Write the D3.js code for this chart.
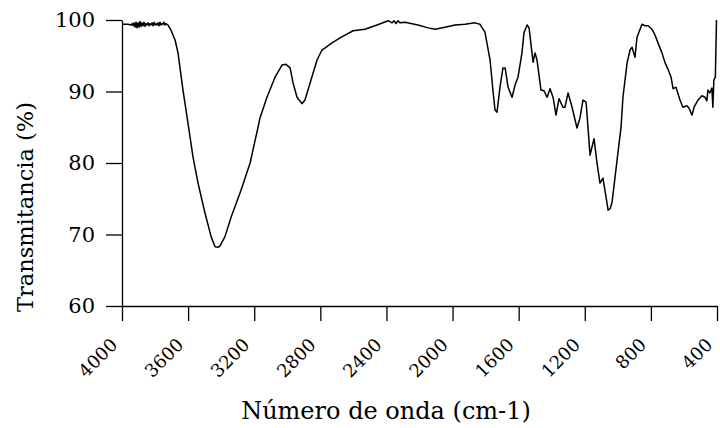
<!DOCTYPE html>
<html><head><meta charset="utf-8">
<script src="https://cdn.jsdelivr.net/npm/d3@7"></script>
<style>body{margin:0;background:#fff}svg{display:block}</style>
</head><body>
<svg id="c" width="720" height="428"></svg>
<script>
const wavenumber = [3994,3964,3945,3939,3933,3927,3921,3915,3909,3903,3897,3891,3885,3879,3873,3867,3861,3855,3849,3843,3837,3831,3825,3818,3812,3806,3800,3794,3788,3782,3776,3770,3764,3758,3752,3746,3740,3734,3728,3722,3704,3679,3661,3649,3631,3601,3570,3540,3498,3461,3437,3419,3407,3377,3340,3280,3225,3177,3165,3123,3074,3032,3008,2983,2965,2941,2911,2893,2862,2820,2790,2729,2681,2602,2530,2457,2390,2366,2354,2342,2330,2318,2288,2209,2148,2106,2046,1985,1925,1864,1834,1804,1773,1755,1743,1731,1713,1695,1682,1664,1640,1622,1604,1580,1568,1549,1537,1513,1501,1489,1465,1447,1428,1410,1392,1374,1356,1332,1320,1301,1277,1247,1229,1211,1192,1168,1144,1126,1108,1090,1071,1059,1047,1035,1017,999,981,969,944,926,914,896,884,854,836,817,793,775,757,733,714,696,678,666,648,624,606,582,570,551,539,515,491,473,461,455,443,431,425,419,410,403];
const transmittance = [99.4,99.4,99.3,99.5,99.2,99.6,99.0,99.7,98.9,99.6,99.0,99.8,99.1,99.6,99.2,99.7,99.1,99.5,99.3,99.6,99.2,99.5,99.3,99.6,99.2,99.7,99.3,99.5,99.3,99.6,99.2,99.7,99.3,99.5,99.4,99.7,99.3,99.5,99.4,99.3,98.6,97.2,95.4,93.3,90.2,85.6,80.8,77.2,73.0,69.7,68.3,68.2,68.4,69.7,72.4,76.2,80.0,85.0,86.3,89.2,92.0,93.7,93.8,93.3,91.2,89.2,88.3,88.8,91.2,94.4,95.8,96.8,97.5,98.5,98.7,99.3,99.9,99.6,99.9,99.5,99.9,99.6,99.7,99.3,98.9,98.7,99.0,99.3,99.4,99.6,99.4,98.3,94.4,90.0,87.4,87.1,90.6,93.3,93.3,90.6,89.2,90.9,92.0,95.4,98.2,99.3,98.9,94.1,95.4,94.4,90.2,90.1,89.2,90.4,89.2,86.7,89.0,87.8,87.8,89.8,87.8,84.9,86.3,88.8,88.5,81.1,83.4,80.0,77.2,77.9,75.2,73.4,73.6,74.5,78.0,81.5,84.9,89.2,94.0,95.8,96.2,94.8,97.6,99.4,99.2,99.2,98.7,97.9,96.8,95.4,94.0,93.1,92.0,90.4,90.6,88.8,87.8,88.0,87.7,86.7,87.8,88.8,89.4,89.2,88.7,90.2,89.8,90.5,87.8,91.6,92.0,100.0];
const xTicks = [4000,3600,3200,2800,2400,2000,1600,1200,800,400];
const yTicks = [60,70,80,90,100];
const xTitle = "Número de onda (cm-1)";
const yTitle = "Transmitancia (%)";

const FONT = "'DejaVu Serif', serif";
const svg = d3.select("#c");
const m = {l:122, r:3, t:20, b:122};
const W = 720, H = 428;
const x = d3.scaleLinear().domain([4000,400]).range([m.l, W-m.r]);
const y = d3.scaleLinear().domain([60,100]).range([H-m.b, m.t]);

const gx = svg.append("g").attr("transform",`translate(0,${H-m.b})`)
  .call(d3.axisBottom(x).tickValues(xTicks).tickSize(15).tickSizeOuter(0).tickFormat(d3.format("d")));
gx.selectAll("text").attr("font-family",FONT).attr("font-size",18).attr("fill","#000")
  .attr("text-anchor","end").attr("dy",0).attr("y",0)
  .attr("transform","translate(-4,40) rotate(-45)");
const gy = svg.append("g").attr("transform",`translate(${m.l},0)`)
  .call(d3.axisLeft(y).tickValues(yTicks).tickSize(16).tickSizeOuter(0));
gy.selectAll("text").attr("font-family",FONT).attr("font-size",21).attr("fill","#000").attr("x",-27);
svg.selectAll(".domain, .tick line").attr("stroke","#000").attr("stroke-width",1.3);

const data = wavenumber.map((w,i)=>[w,transmittance[i]]);
svg.append("path").datum(data).attr("fill","none").attr("stroke","#000").attr("stroke-width",1.5)
  .attr("stroke-linejoin","round")
  .attr("d", d3.line().x(d=>x(d[0])).y(d=>y(d[1])));

svg.append("text").attr("x",386).attr("y",419).attr("text-anchor","middle")
  .attr("font-family",FONT).attr("font-size",24).attr("fill","#000").text(xTitle);
svg.append("text").attr("transform","translate(33,207) rotate(-90)").attr("text-anchor","middle")
  .attr("font-family",FONT).attr("font-size",22.5).attr("fill","#000").text(yTitle);
</script>
</body></html>
